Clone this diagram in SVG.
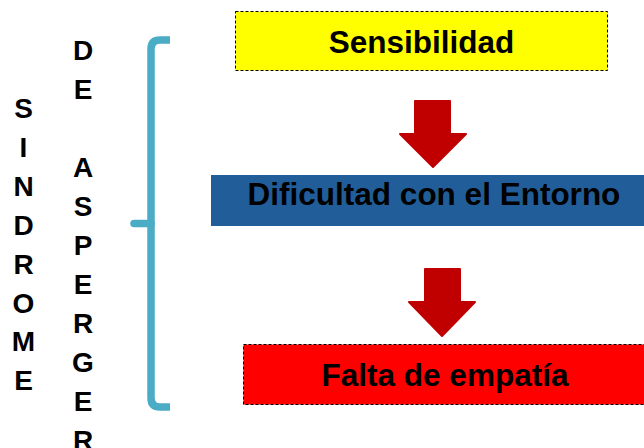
<svg xmlns="http://www.w3.org/2000/svg" width="644" height="448" viewBox="0 0 644 448">
<style>
.lbl{font-family:"Liberation Sans",Arial,sans-serif;font-weight:bold;fill:#000;text-anchor:middle}
.box{font-size:31.5px}
.col{font-size:28px}
.dash{stroke:#000;stroke-width:1;stroke-dasharray:3 2}
.arrow{fill:#C00000;stroke:#C00000;stroke-width:2;stroke-linejoin:round}
.brace{fill:none;stroke:#4BACC6;stroke-width:7.5}
</style>
<rect width="644" height="448" fill="#fff"/>
<g id="title-sindrome">
<text class="lbl col" x="23.5" y="118"><tspan x="23.5" y="118">S</tspan><tspan x="23.5" y="156.9">I</tspan><tspan x="23.5" y="195.8">N</tspan><tspan x="23.5" y="234.7">D</tspan><tspan x="23.5" y="273.6">R</tspan><tspan x="23.5" y="312.5">O</tspan><tspan x="23.5" y="351.4">M</tspan><tspan x="23.5" y="390.3">E</tspan></text>
</g>
<g id="title-asperger">
<text class="lbl col" x="83" y="59.5"><tspan x="83" y="59.5">D</tspan><tspan x="83" y="98.5">E</tspan><tspan x="83" y="176.5">A</tspan><tspan x="83" y="215.5">S</tspan><tspan x="83" y="254.5">P</tspan><tspan x="83" y="293.5">E</tspan><tspan x="83" y="332.5">R</tspan><tspan x="83" y="371.5">G</tspan><tspan x="83" y="410.5">E</tspan><tspan x="83" y="449.5">R</tspan></text>
</g>
<g id="brace">
<path class="brace" d="M170,40 H160 Q151,40 151,49 V398 Q151,407 160,407 H170" stroke-linejoin="round"/>
<path class="brace" d="M151,223.5 H134" stroke-linecap="round"/>
</g>
<g id="node-sensibilidad">
<rect x="235.5" y="11.5" width="372" height="59" fill="#FFFF00" class="dash"/>
<text class="lbl box" x="421.5" y="53">Sensibilidad</text>
</g>
<g id="node-entorno">
<rect x="211" y="175" width="440" height="51" fill="#215E99"/>
<text class="lbl box" x="434" y="205">Dificultad con el Entorno</text>
</g>
<g id="node-empatia">
<rect x="243.5" y="344.5" width="410" height="60" fill="#FF0000" class="dash"/>
<text class="lbl box" x="445" y="386">Falta de empatía</text>
</g>
<g id="connectors">
<polygon class="arrow" points="415,101 450,101 450,134 466,134 433,167 400,134 415,134"/>
<polygon class="arrow" points="425,269 460,269 460,302 475,302 442,336 409,302 425,302"/>
</g>
</svg>
